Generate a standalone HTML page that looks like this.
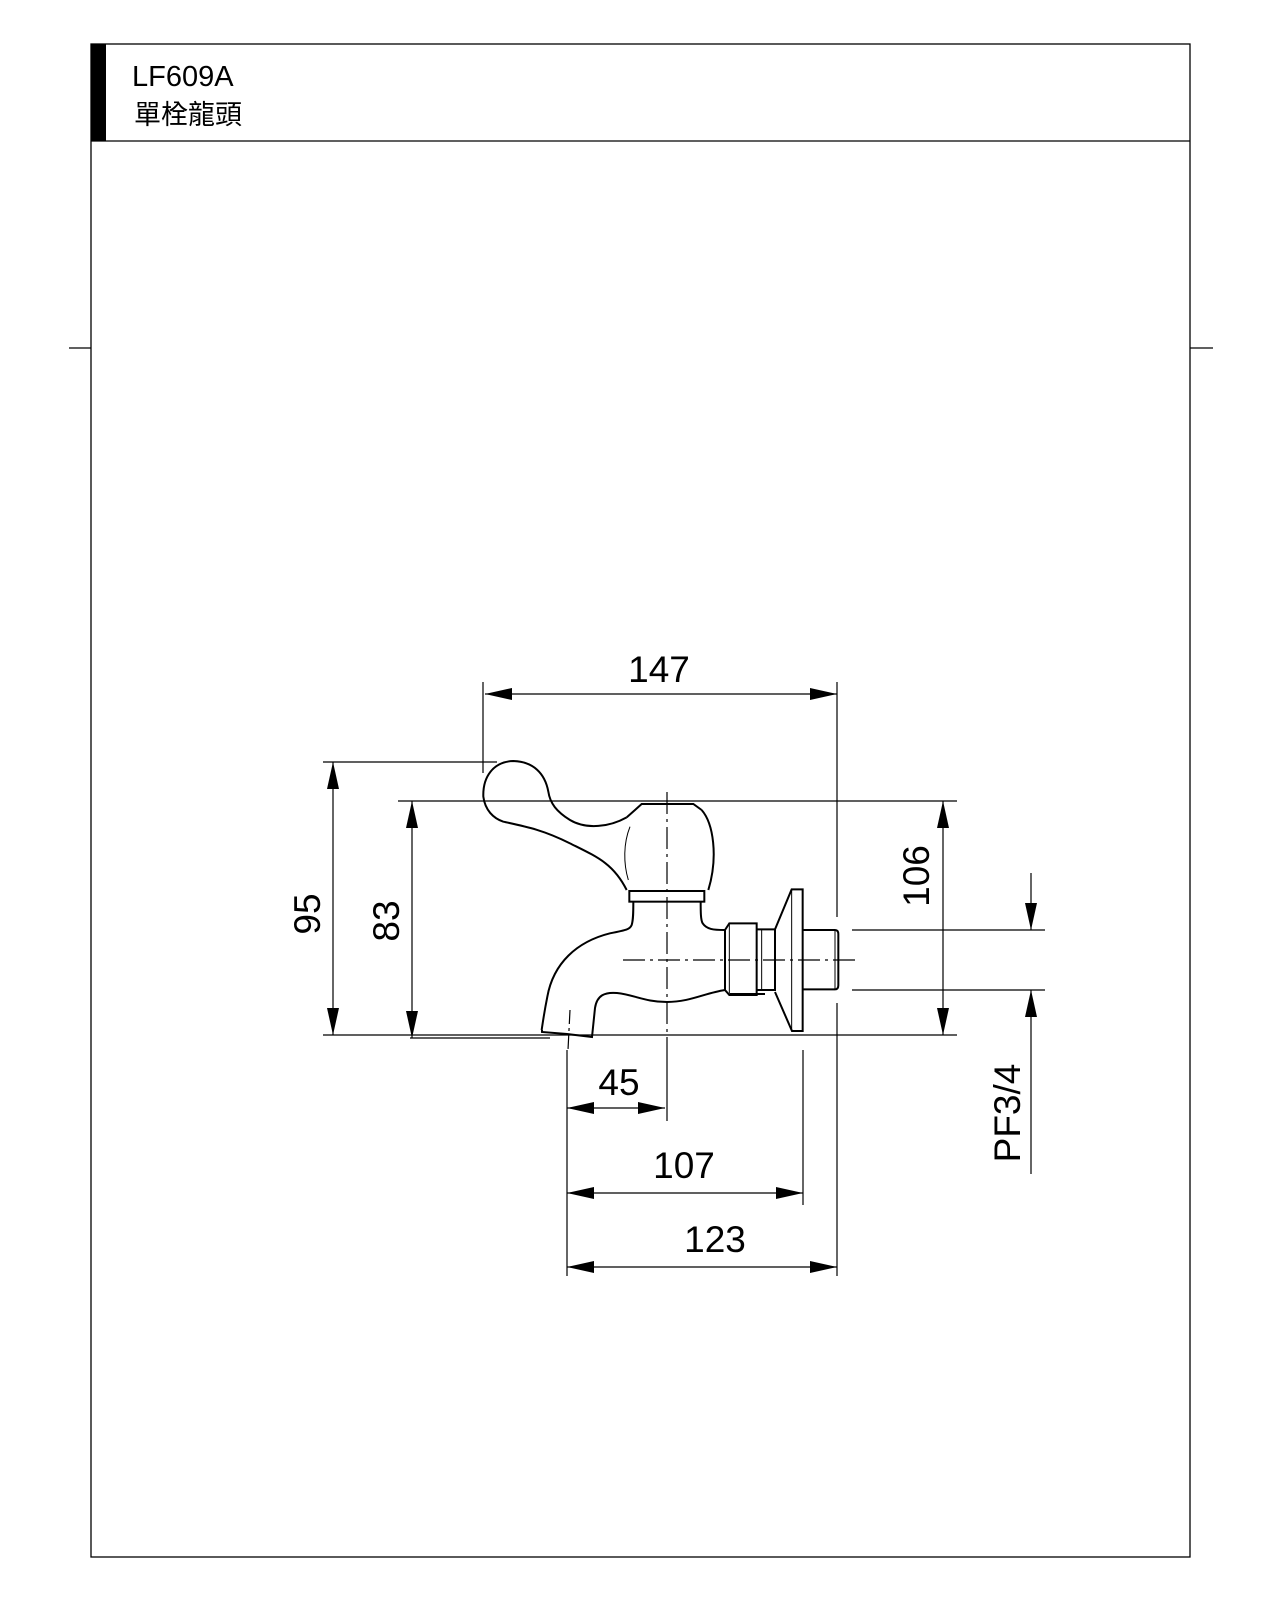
<!DOCTYPE html>
<html><head><meta charset="utf-8"><style>
html,body{margin:0;padding:0;background:#fff;width:1280px;height:1600px;overflow:hidden}
svg{display:block}
text{font-family:"Liberation Sans","Noto Sans CJK TC",sans-serif;fill:#000}
</style></head><body>
<svg width="1280" height="1600" viewBox="0 0 1280 1600" xmlns="http://www.w3.org/2000/svg">
<defs>
<marker id="a" viewBox="0 0 27 12" refX="27" refY="6" markerWidth="27" markerHeight="12" markerUnits="userSpaceOnUse" orient="auto">
<path d="M0 0 L27 6 L0 12 Z" fill="#000"/></marker>
</defs>
<g fill="none" stroke="#000" stroke-width="1.3">
<rect x="91" y="44" width="1099" height="1513"/>
<line x1="91" y1="141" x2="1190" y2="141"/>
<line x1="69" y1="348" x2="91" y2="348"/>
<line x1="1190" y1="348" x2="1213" y2="348"/>
</g>
<rect x="91" y="44" width="15" height="97" fill="#000"/>
<text x="132" y="86" font-size="29">LF609A</text>
<text x="134" y="124" font-size="27">單栓龍頭</text>

<g fill="none" stroke="#000" stroke-width="1.2">
<line x1="323" y1="762" x2="497" y2="762"/>
<line x1="398" y1="801" x2="957" y2="801"/>
<line x1="323" y1="1035" x2="957" y2="1035"/>
<line x1="410" y1="1038" x2="550" y2="1038"/>
<line x1="483" y1="682" x2="483" y2="773"/>
<line x1="837" y1="682" x2="837" y2="917"/>
<line x1="837" y1="1003" x2="837" y2="1276"/>
<line x1="567" y1="1050" x2="567" y2="1276"/>
<line x1="803" y1="1050" x2="803" y2="1205"/>
<line x1="852" y1="930" x2="1045" y2="930"/>
<line x1="852" y1="990" x2="1045" y2="990"/>
<line x1="667" y1="1040" x2="667" y2="1121"/>
<line x1="660" y1="694" x2="485" y2="694" marker-end="url(#a)"/>
<line x1="660" y1="694" x2="837" y2="694" marker-end="url(#a)"/>
<line x1="333" y1="900" x2="333" y2="762" marker-end="url(#a)"/>
<line x1="333" y1="900" x2="333" y2="1035" marker-end="url(#a)"/>
<line x1="412" y1="920" x2="412" y2="801" marker-end="url(#a)"/>
<line x1="412" y1="920" x2="412" y2="1038" marker-end="url(#a)"/>
<line x1="943" y1="920" x2="943" y2="801" marker-end="url(#a)"/>
<line x1="943" y1="920" x2="943" y2="1035" marker-end="url(#a)"/>
<line x1="1031" y1="873" x2="1031" y2="930" marker-end="url(#a)"/>
<line x1="1031" y1="1174" x2="1031" y2="990" marker-end="url(#a)"/>
<line x1="615" y1="1108" x2="567" y2="1108" marker-end="url(#a)"/>
<line x1="615" y1="1108" x2="665" y2="1108" marker-end="url(#a)"/>
<line x1="685" y1="1193" x2="567" y2="1193" marker-end="url(#a)"/>
<line x1="685" y1="1193" x2="803" y2="1193" marker-end="url(#a)"/>
<line x1="700" y1="1267" x2="567" y2="1267" marker-end="url(#a)"/>
<line x1="700" y1="1267" x2="837" y2="1267" marker-end="url(#a)"/>
<line x1="667" y1="792" x2="667" y2="1040" stroke-dasharray="22,5,3,5"/>
<line x1="623" y1="960" x2="857" y2="960" stroke-dasharray="22,5,3,5"/>
<line x1="570" y1="1010" x2="568" y2="1050" stroke-dasharray="14,4,3,4"/>
</g>

<g transform="translate(460,730) scale(0.33333)" fill="none" stroke="#000" stroke-width="6">
<path d="M500 262 C450 290 380 300 330 270 C290 245 270 220 265 185 C255 130 220 95 160 93 C100 95 68 140 70 200 C75 240 100 265 130 275 C200 290 250 300 330 340 C410 380 460 400 500 480"/>
<path d="M500 262 L525 240 L545 222 L700 222 L725 240"/>
<path d="M725 240 C760 280 775 380 745 480"/>
<path d="M510 290 C490 340 490 400 505 450" stroke-width="3"/>
<rect x="508" y="483" width="225" height="32"/>
<path d="M520 515 C520 545 520 570 515 585 C510 598 500 600 450 610 C350 635 280 700 262 800 C252 850 248 880 245 900"/>
<path d="M722 515 C722 545 722 570 728 580 C740 598 760 600 795 600"/>
<path d="M795 600 L808 580 L890 580 L890 795 L808 795 L795 780 Z"/>
<line x1="808" y1="580" x2="808" y2="795" stroke-width="3"/>
<path d="M890 598 L945 598 L945 780 L890 780"/>
<line x1="905" y1="598" x2="905" y2="780" stroke-width="3"/>
<path d="M945 598 L995 478 L1028 478 L1028 903 L996 903 L945 786"/>
<line x1="995" y1="478" x2="995" y2="903" stroke-width="3"/>
<path d="M1028 600 L1125 600 Q1135 600 1135 612 L1135 766 Q1135 778 1125 778 L1028 778"/>
<line x1="1125" y1="600" x2="1125" y2="778" stroke-width="3"/>
</g>
<g fill="none" stroke="#000" stroke-width="2">
<path d="M542 1030 L542 1032 L567 1034 L592 1037 L595 1008 C597 995 605 992 617 993 C635 995 645 1002 667 1002 C690 1002 705 993 725 990"/>
<line x1="730" y1="994" x2="765" y2="994"/>
</g>

<text x="659" y="682" font-size="37" text-anchor="middle">147</text>
<text x="619" y="1095" font-size="37" text-anchor="middle">45</text>
<text x="684" y="1178" font-size="37" text-anchor="middle">107</text>
<text x="715" y="1252" font-size="37" text-anchor="middle">123</text>
<text transform="translate(320,914) rotate(-90)" font-size="37" text-anchor="middle">95</text>
<text transform="translate(399,921) rotate(-90)" font-size="37" text-anchor="middle">83</text>
<text transform="translate(929,876) rotate(-90)" font-size="37" text-anchor="middle">106</text>
<text transform="translate(1020,1113) rotate(-90)" font-size="37" text-anchor="middle">PF3/4</text>
</svg>
</body></html>
